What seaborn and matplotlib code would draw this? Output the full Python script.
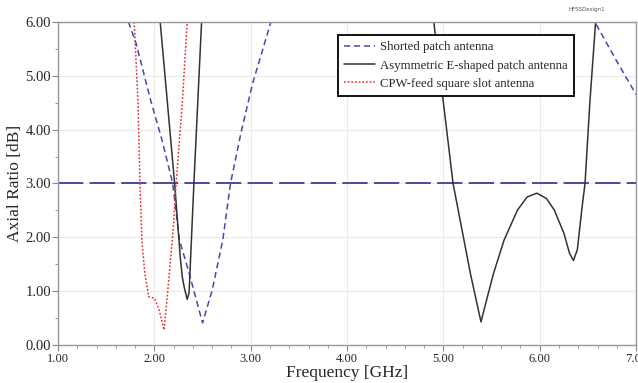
import matplotlib
matplotlib.use("Agg")
import matplotlib.pyplot as plt
import seaborn as sns
from matplotlib.ticker import MultipleLocator

# Shorted patch antenna (blue dashed)
shorted_freq = [1.73, 1.81, 1.96, 2.08, 2.19, 2.26, 2.36, 2.50, 2.60, 2.71, 2.79, 2.90, 3.02, 3.21,
                3.45, 3.78, 4.10, 6.40, 6.57, 6.79, 7.00]
shorted_ar = [6.0, 5.6, 4.55, 3.8, 3.0, 1.95, 1.34, 0.41, 1.02, 1.95, 3.0, 3.95, 4.86, 6.0,
              6.3, 6.0, 6.4, 6.4, 6.0, 5.3, 4.65]

# Asymmetric E-shaped patch antenna (black solid)
eshape_freq = [2.06, 2.21, 2.27, 2.29, 2.31, 2.34, 2.36, 2.41, 2.49, 2.55, 4.85, 4.90, 5.00, 5.10,
               5.18, 5.28, 5.39, 5.45, 5.52, 5.63, 5.77, 5.87, 5.97, 6.07, 6.15, 6.25, 6.31, 6.35,
               6.39, 6.44, 6.47, 6.52, 6.58]
eshape_ar = [6.0, 3.0, 1.6, 1.26, 1.07, 0.85, 0.97, 3.0, 6.0, 6.5, 6.5, 6.0, 4.5, 3.0,
             2.26, 1.33, 0.43, 0.85, 1.33, 1.95, 2.51, 2.75, 2.82, 2.72, 2.51, 2.08, 1.7, 1.57,
             1.77, 2.57, 3.0, 4.5, 6.0]

# CPW-feed square slot antenna (red dotted)
cpw_freq = [1.79, 1.83, 1.85, 1.87, 1.90, 1.94, 2.00, 2.05, 2.10, 2.13, 2.17, 2.20, 2.22, 2.29, 2.34]
cpw_ar = [6.0, 4.5, 3.0, 1.95, 1.34, 0.90, 0.87, 0.65, 0.28, 0.83, 1.64, 2.26, 2.88, 4.5, 6.0]

ar_limit = 3.0

sns.set_style("white")
plt.rcParams['font.family'] = ['Liberation Serif', 'DejaVu Serif']

fig = plt.figure(figsize=(6.38, 3.83), dpi=100)
ax = fig.add_axes([0.091, 0.099, 0.906, 0.844])

ax.axhline(ar_limit, color='#3c3c96', lw=1.3, dashes=(14, 3.5), zorder=1)

sns.lineplot(x=shorted_freq, y=shorted_ar, ax=ax, sort=False, color='#4646b4', lw=1.1,
             linestyle=(0, (4, 2.5)), label='Shorted patch antenna')
sns.lineplot(x=eshape_freq, y=eshape_ar, ax=ax, sort=False, color='#333333', lw=1.1,
             label='Asymmetric E-shaped patch antenna')
sns.lineplot(x=cpw_freq, y=cpw_ar, ax=ax, sort=False, color='#e8333a', lw=1.1,
             linestyle=(0, (1.2, 1.2)), label='CPW-feed square slot antenna')

ax.set_xlim(1.0, 7.0)
ax.set_ylim(0.0, 6.0)
ax.xaxis.set_major_locator(MultipleLocator(1.0))
ax.xaxis.set_minor_locator(MultipleLocator(0.2))
ax.yaxis.set_major_locator(MultipleLocator(1.0))
ax.yaxis.set_minor_locator(MultipleLocator(0.5))
ax.xaxis.set_major_formatter(matplotlib.ticker.FormatStrFormatter('%.2f'))
ax.yaxis.set_major_formatter(matplotlib.ticker.FormatStrFormatter('%.2f'))
ax.tick_params(axis='y', which='major', labelsize=10.5, length=4, color='#888888',
               direction='out', pad=1)
ax.tick_params(axis='x', which='major', labelsize=9, length=4, color='#888888',
               direction='out', pad=2)
ax.tick_params(axis='both', which='minor', length=2, color='#888888', direction='out')
ax.tick_params(bottom=True, left=True, which='both')
ax.grid(True, which='major', color='#ebebeb', lw=0.8)

for side in ['top', 'bottom', 'left', 'right']:
    ax.spines[side].set_color('#999999')
    ax.spines[side].set_linewidth(1.0)

ax.set_xlabel('Frequency [GHz]', fontsize=12.5, labelpad=0)
ax.set_ylabel('Axial Ratio [dB]', fontsize=12.5, labelpad=2)

leg = ax.legend(loc='upper left', bbox_to_anchor=(0.484, 0.96), fontsize=9.2,
                frameon=True, fancybox=False, edgecolor='#111111', framealpha=1,
                handlelength=2.4, handletextpad=0.4, borderpad=0.5, labelspacing=0.5,
                borderaxespad=0)
leg.get_frame().set_linewidth(1.4)

fig.text(0.92, 0.975, 'HFSSDesign1', fontsize=4, color='#555555', family='DejaVu Sans',
         ha='center', va='center')

fig.savefig('out.png', dpi=100)
